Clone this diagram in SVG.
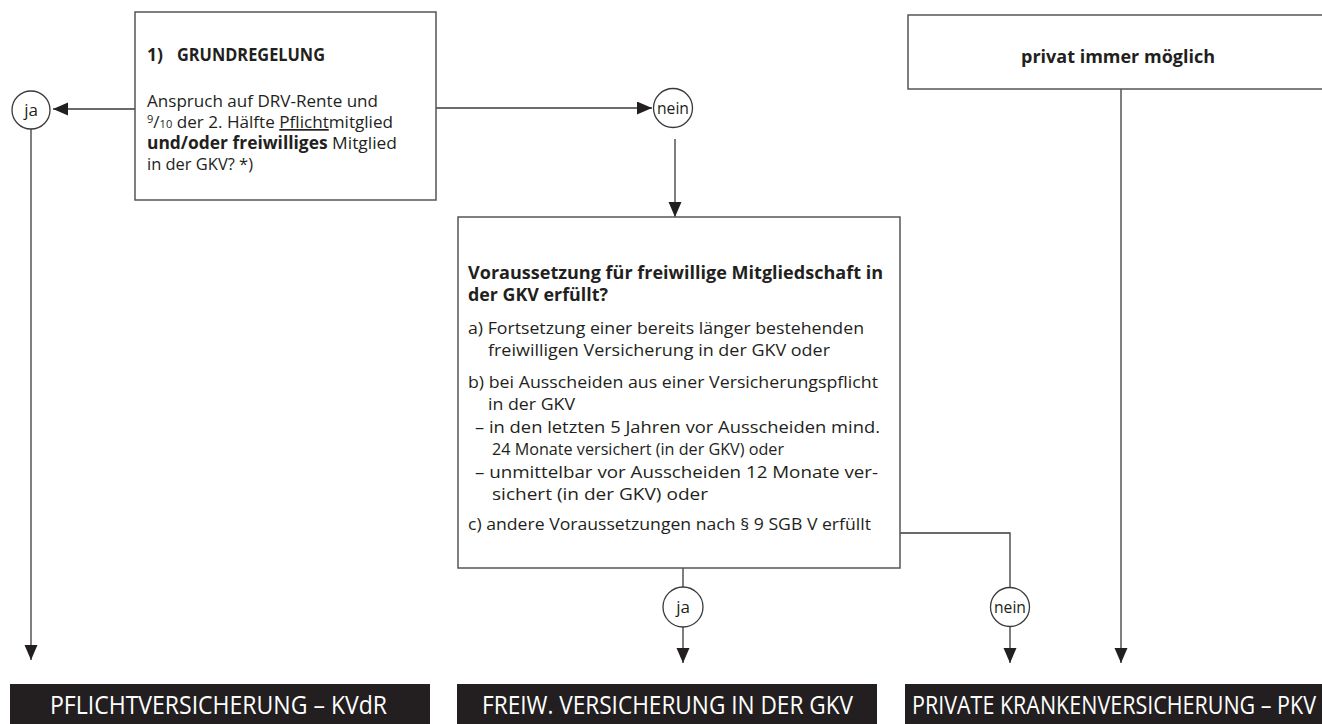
<svg xmlns="http://www.w3.org/2000/svg" width="1322" height="724" viewBox="0 0 1322 724">
<style>
  .box { fill: #ffffff; stroke: #555555; stroke-width: 1.5; }
  .conn { fill: none; stroke: #3a3a3a; stroke-width: 1.3; }
  .circ { fill: #ffffff; stroke: #3a3a3a; stroke-width: 1.3; }
  .t { font-family: "Open Sans", "Liberation Sans", sans-serif; fill: #231f20; }
  .body { font-size: 17px; font-weight: 400; }
  .bold { font-size: 17.5px; font-weight: 700; }
  .lbl { font-size: 17px; text-anchor: middle; }
  .bar { fill: #231f20; }
  .bartxt { font-family: "Open Sans", "Liberation Sans", sans-serif; font-size: 26px; fill: #ffffff; }
</style>
<defs>
  <marker id="arr" markerUnits="userSpaceOnUse" markerWidth="16" markerHeight="14" refX="15" refY="6.5" orient="auto">
    <path d="M0,0 L15,6.5 L0,13 z" fill="#231f20"/>
  </marker>
</defs>

<g id="connectors">
  <path class="conn" d="M135,109 H53" marker-end="url(#arr)"/>
  <path class="conn" d="M31,129 V660" marker-end="url(#arr)"/>
  <path class="conn" d="M436,108 H652" marker-end="url(#arr)"/>
  <path class="conn" d="M675,139 V217" marker-end="url(#arr)"/>
  <path class="conn" d="M683,568 V587"/>
  <path class="conn" d="M683,627 V663" marker-end="url(#arr)"/>
  <path class="conn" d="M900,533 H1010 V587"/>
  <path class="conn" d="M1010,627 V663" marker-end="url(#arr)"/>
  <path class="conn" d="M1121,89 V663" marker-end="url(#arr)"/>
</g>

<g id="grundregelung">
  <rect class="box" x="135" y="12" width="301" height="188"/>
  <text class="t bold" x="147" y="61" font-size="18">1)<tspan x="177" textLength="148" lengthAdjust="spacingAndGlyphs">GRUNDREGELUNG</tspan></text>
  <text class="t body" x="147" y="107" textLength="231" lengthAdjust="spacingAndGlyphs">Anspruch auf DRV-Rente und</text>
  <text class="t body" x="147" y="128" textLength="246" lengthAdjust="spacingAndGlyphs"><tspan font-size="11" dy="-5">9</tspan><tspan dy="5">/</tspan><tspan font-size="11">10</tspan> der 2. Hälfte <tspan text-decoration="underline">Pflicht</tspan>mitglied</text>
  <text class="t body" x="147" y="149" textLength="250" lengthAdjust="spacingAndGlyphs"><tspan font-weight="700">und/oder freiwilliges</tspan> Mitglied</text>
  <text class="t body" x="147" y="170" textLength="106" lengthAdjust="spacingAndGlyphs">in der GKV? *)</text>
</g>

<g id="ja-left">
  <circle class="circ" cx="31" cy="110" r="19"/>
  <text class="t lbl" x="31" y="116">ja</text>
</g>

<g id="nein-top">
  <circle class="circ" cx="673" cy="108" r="19.5"/>
  <text class="t lbl" x="673" y="114" textLength="32" lengthAdjust="spacingAndGlyphs">nein</text>
</g>

<g id="voraussetzung">
  <rect class="box" x="458" y="217" width="442" height="351"/>
  <text class="t bold" x="468" y="279" textLength="415" lengthAdjust="spacingAndGlyphs">Voraussetzung für freiwillige Mitgliedschaft in</text>
  <text class="t bold" x="468" y="301" textLength="140" lengthAdjust="spacingAndGlyphs">der GKV erfüllt?</text>
  <text class="t body" x="468" y="334" textLength="396" lengthAdjust="spacingAndGlyphs">a) Fortsetzung einer bereits länger bestehenden</text>
  <text class="t body" x="488" y="356" textLength="342" lengthAdjust="spacingAndGlyphs">freiwilligen Versicherung in der GKV oder</text>
  <text class="t body" x="468" y="388" textLength="410" lengthAdjust="spacingAndGlyphs">b) bei Ausscheiden aus einer Versicherungspflicht</text>
  <text class="t body" x="488" y="410" textLength="87" lengthAdjust="spacingAndGlyphs">in der GKV</text>
  <text class="t body" x="475" y="433" textLength="405" lengthAdjust="spacingAndGlyphs">– in den letzten 5 Jahren vor Ausscheiden mind.</text>
  <text class="t body" x="492" y="455" textLength="292" lengthAdjust="spacingAndGlyphs">24 Monate versichert (in der GKV) oder</text>
  <text class="t body" x="475" y="478" textLength="403" lengthAdjust="spacingAndGlyphs">– unmittelbar vor Ausscheiden 12 Monate ver-</text>
  <text class="t body" x="492" y="500" textLength="216" lengthAdjust="spacingAndGlyphs">sichert (in der GKV) oder</text>
  <text class="t body" x="468" y="530" textLength="403" lengthAdjust="spacingAndGlyphs">c) andere Voraussetzungen nach § 9 SGB V erfüllt</text>
</g>

<g id="ja-bottom">
  <circle class="circ" cx="683" cy="607" r="20"/>
  <text class="t lbl" x="683" y="613">ja</text>
</g>

<g id="nein-bottom">
  <circle class="circ" cx="1010" cy="607" r="19.5"/>
  <text class="t lbl" x="1010" y="613" textLength="32" lengthAdjust="spacingAndGlyphs">nein</text>
</g>

<g id="privat">
  <rect class="box" x="908" y="15" width="430" height="74"/>
  <text class="t bold" x="1021" y="63" font-size="19" textLength="194" lengthAdjust="spacingAndGlyphs">privat immer möglich</text>
</g>

<g id="kvdr">
  <rect class="bar" x="10" y="684" width="420" height="40"/>
  <text class="bartxt" x="50" y="714" textLength="337" lengthAdjust="spacingAndGlyphs">PFLICHTVERSICHERUNG – KVdR</text>
</g>

<g id="freiw">
  <rect class="bar" x="457" y="684" width="420" height="40"/>
  <text class="bartxt" x="482" y="714" textLength="371" lengthAdjust="spacingAndGlyphs">FREIW. VERSICHERUNG IN DER GKV</text>
</g>

<g id="pkv">
  <rect class="bar" x="905" y="684" width="425" height="40"/>
  <text class="bartxt" x="912" y="714" textLength="404" lengthAdjust="spacingAndGlyphs">PRIVATE KRANKENVERSICHERUNG – PKV</text>
</g>
</svg>
